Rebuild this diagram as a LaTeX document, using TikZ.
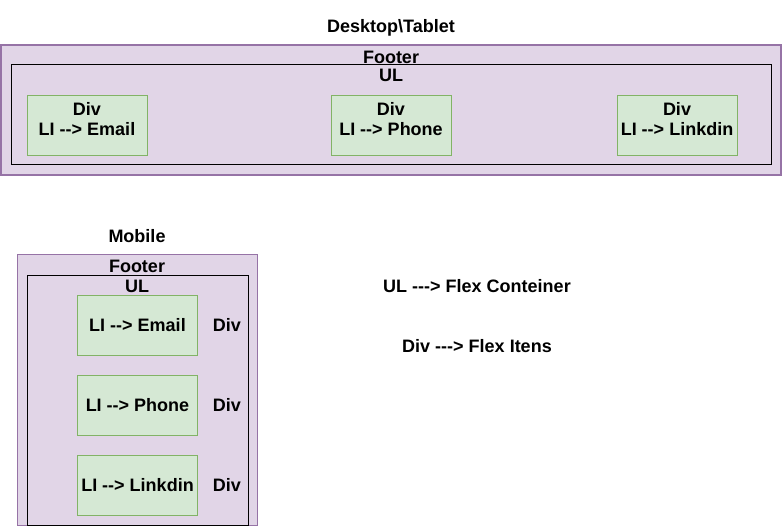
\documentclass[tikz,border=0pt]{standalone}
\usepackage{fontspec}
\setmainfont{Liberation Sans}
\usepackage{tikz}
\usetikzlibrary{positioning}
\definecolor{footfill}{HTML}{E1D5E7}
\definecolor{footline}{HTML}{9673A6}
\definecolor{itemfill}{HTML}{D5E8D4}
\definecolor{itemline}{HTML}{82B366}
\tikzstyle{box} = [rectangle, inner sep=0pt, outer sep=0pt]
\tikzstyle{footer} = [box, draw=footline, fill=footfill]
\tikzstyle{ulbox} = [box, draw=black, line width=1pt]
\tikzstyle{item} = [box, draw=itemline, fill=itemfill, line width=0.8pt,
    minimum width=120pt, minimum height=60pt]
\tikzstyle{lbl} = [font=\bfseries\fontsize{18}{20}\selectfont, align=center,
    inner sep=0pt]
\tikzstyle{word} = [lbl, anchor=base]

\begin{document}
\begin{tikzpicture}[x=1pt,y=-1pt]
\useasboundingbox (0,0) rectangle (782,526);
    %desktop
    \node[word] (desk) at (391,32.5) {Desktop\textbackslash Tablet};
    \node[footer,line width=2pt,minimum width=780pt,minimum height=130pt] (footD) at (391,110) {};
    \node[ulbox,minimum width=760pt,minimum height=100pt] (ulD) at (391,115) {};
    \node[word] (footDtxt) at (391,63.2) {Footer};
    \node[word] (ulDtxt) at (391,82) {UL};
    \node[item] (email) at (87,125) {};
    \node[item] (phone) at (391,125) {};
    \node[item] (linkdin) at (677,125) {};
    \node[lbl] at (87,119) {Div\\LI -{}-{}> Email};
    \node[lbl] at (391,119) {Div\\LI -{}-{}> Phone};
    \node[lbl] at (677,119) {Div\\LI -{}-{}> Linkdin};
    %mobile
    \node[word] (mob) at (137,242.3) {Mobile};
    \node[footer,line width=1pt,minimum width=240pt,minimum height=270pt] (footM) at (137,390) {};
    \node[ulbox,minimum width=221pt,minimum height=249pt] (ulM) at (137.5,400.5) {};
    \node[word] (footMtxt) at (137,272.3) {Footer};
    \node[word] (ulMtxt) at (137,292.8) {UL};
    \foreach \y/\t [count=\i] in {325/Email,405/Phone,485/Linkdin}{
        \node[item] (m\i) at (137.5,\y) {};
        \node[word] at ([yshift=-6.5pt]m\i.center) {LI -{}-{}> \t};
        \node[word] (d\i) at (227,\y+6.5) {Div};
    }
    %legend
    \node[word] (flexc) at (477,292.5) {UL -{}-{}-{}> Flex Conteiner};
    \node[word] (flexi) at (477,352.5) {Div -{}-{}-{}> Flex Itens};
\end{tikzpicture}
\end{document}
